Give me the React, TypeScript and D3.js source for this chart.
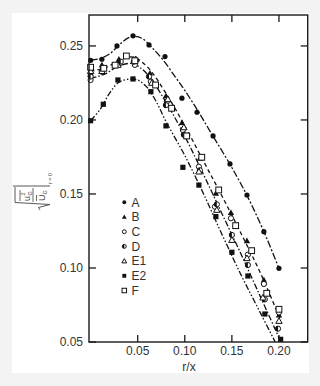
import React from 'react';
import * as d3 from 'd3';

const W = 320;
const H = 386;

const xTicks = [0.05, 0.1, 0.15, 0.2];
const yTicks = [0.05, 0.1, 0.15, 0.2, 0.25];
const xLabel = 'r/x';
const legendNames = ['A', 'B', 'C', 'D', 'E1', 'E2', 'F'];
const legendMarkers = ['dot', 'triFill', 'circOpen', 'half', 'triOpen', 'sqFill', 'sqOpen'];

// Measured points
const aX = [0, 0.012, 0.028, 0.045, 0.062, 0.079, 0.097, 0.113, 0.13, 0.148, 0.166, 0.184, 0.2];
const aY = [0.2403, 0.241, 0.25, 0.2568, 0.2507, 0.2428, 0.2147, 0.2052, 0.1892, 0.1703, 0.1493, 0.1245, 0.0998];
const bX = [0, 0.012, 0.03, 0.046, 0.063, 0.08, 0.097, 0.116, 0.133, 0.149, 0.166, 0.184, 0.2];
const bY = [0.2316, 0.2372, 0.241, 0.241, 0.2316, 0.2162, 0.1982, 0.1741, 0.1505, 0.1374, 0.1184, 0.0919, 0.0682];
const cX = [0, 0.012, 0.031, 0.047, 0.064, 0.081, 0.098, 0.115, 0.132, 0.149, 0.167, 0.184, 0.2];
const cY = [0.227, 0.2326, 0.2383, 0.2372, 0.2259, 0.2124, 0.1932, 0.1684, 0.1414, 0.1336, 0.109, 0.0892, 0.07];
const dX = [0, 0.013, 0.032, 0.046, 0.062, 0.08, 0.099, 0.116, 0.134, 0.15, 0.167, 0.185, 0.199];
const dY = [0.2293, 0.2349, 0.2394, 0.2394, 0.2293, 0.21, 0.19, 0.166, 0.143, 0.1223, 0.102, 0.0788, 0.059];
const e1X = [0, 0.012, 0.029, 0.048, 0.065, 0.082, 0.099, 0.115, 0.134, 0.15, 0.166, 0.183, 0.2];
const e1Y = [0.233, 0.233, 0.2372, 0.241, 0.225, 0.214, 0.195, 0.1651, 0.1392, 0.1189, 0.1066, 0.08, 0.0642];
const e2X = [0, 0.0135, 0.029, 0.045, 0.064, 0.08, 0.098, 0.115, 0.133, 0.15, 0.167, 0.185, 0.2018];
const e2Y = [0.1995, 0.2106, 0.227, 0.2277, 0.2191, 0.196, 0.168, 0.156, 0.1347, 0.1106, 0.0946, 0.0689, 0.0518];
const fX = [0, 0.014, 0.026, 0.038, 0.047, 0.069, 0.086, 0.102, 0.118, 0.136, 0.154, 0.171, 0.187, 0.2];
const fY = [0.2356, 0.2349, 0.237, 0.2432, 0.24, 0.2236, 0.2079, 0.1892, 0.1748, 0.1527, 0.1286, 0.1117, 0.0829, 0.0721];

// Fitted curves
const fitAX = [0, 0.01, 0.02, 0.03, 0.04, 0.047, 0.055, 0.065, 0.077, 0.09, 0.1, 0.115, 0.13, 0.148, 0.166, 0.184, 0.2];
const fitAY = [0.2405, 0.2415, 0.2445, 0.2505, 0.2555, 0.2565, 0.255, 0.249, 0.2405, 0.229, 0.22, 0.205, 0.189, 0.17, 0.149, 0.1245, 0.0998];
const fitUpX = [0, 0.015, 0.03, 0.045, 0.06, 0.08, 0.1, 0.12, 0.14, 0.16, 0.18, 0.201];
const fitUpY = [0.233, 0.235, 0.24, 0.2425, 0.236, 0.218, 0.196, 0.172, 0.148, 0.123, 0.097, 0.066];
const fitLoX = [0, 0.015, 0.03, 0.045, 0.06, 0.08, 0.1, 0.12, 0.14, 0.16, 0.18, 0.195, 0.202];
const fitLoY = [0.228, 0.231, 0.2365, 0.238, 0.231, 0.212, 0.189, 0.163, 0.136, 0.109, 0.081, 0.06, 0.05];
const fitE2X = [0, 0.01, 0.02, 0.03, 0.04, 0.05, 0.06, 0.07, 0.08, 0.1, 0.12, 0.14, 0.16, 0.18, 0.196];
const fitE2Y = [0.1995, 0.207, 0.218, 0.2255, 0.2275, 0.227, 0.222, 0.212, 0.199, 0.176, 0.15, 0.122, 0.095, 0.07, 0.05];

const seriesList = [
  { xs: aX, ys: aY, m: 'dot' },
  { xs: bX, ys: bY, m: 'triFill' },
  { xs: cX, ys: cY, m: 'circOpen' },
  { xs: dX, ys: dY, m: 'half' },
  { xs: e1X, ys: e1Y, m: 'triOpen' },
  { xs: e2X, ys: e2Y, m: 'sqFill' },
  { xs: fX, ys: fY, m: 'sqOpen' },
];

const fits = [
  { xs: fitAX, ys: fitAY, dash: '7,2,2,2' },
  { xs: fitUpX, ys: fitUpY, dash: '4,3' },
  { xs: fitLoX, ys: fitLoY, dash: '6,2,1.5,2' },
  { xs: fitE2X, ys: fitE2Y, dash: '6,2,1.5,2,1.5,2' },
];

const INK = '#111';

function Marker({ type, cx, cy, s = 1 }: { type: string; cx: number; cy: number; s?: number }) {
  const r = 2.6 * s;
  switch (type) {
    case 'dot':
      return <circle cx={cx} cy={cy} r={r} fill={INK} />;
    case 'circOpen':
      return <circle cx={cx} cy={cy} r={r} fill="#fff" stroke={INK} strokeWidth={1} />;
    case 'half':
      return (
        <g>
          <circle cx={cx} cy={cy} r={r} fill="#fff" stroke={INK} strokeWidth={1} />
          <path d={`M${cx},${cy - r} A${r},${r} 0 0,0 ${cx},${cy + r} Z`} fill={INK} />
        </g>
      );
    case 'triFill':
    case 'triOpen': {
      const h = 3.2 * s;
      const d = `M${cx},${cy - h} L${cx + h},${cy + h * 0.75} L${cx - h},${cy + h * 0.75} Z`;
      return type === 'triFill' ? (
        <path d={d} fill={INK} />
      ) : (
        <path d={d} fill="#fff" stroke={INK} strokeWidth={1} />
      );
    }
    case 'sqFill':
      return <rect x={cx - r} y={cy - r} width={2 * r} height={2 * r} fill={INK} />;
    case 'sqOpen':
      return <rect x={cx - r - 0.3} y={cy - r - 0.3} width={2 * r + 0.6} height={2 * r + 0.6} fill="#fff" stroke={INK} strokeWidth={1} />;
    default:
      return null;
  }
}

export default function App() {
  const left = 89, right = 307.7, top = 15, bottom = 342;
  const x = d3.scaleLinear().domain([-0.0017, 0.2305]).range([left, right]);
  const y = d3.scaleLinear().domain([0.05, 0.2709]).range([bottom, top]);
  const line = d3
    .line<[number, number]>()
    .x((d) => x(d[0]))
    .y((d) => y(d[1]))
    .curve(d3.curveCatmullRom.alpha(0.5));
  const font = "'Liberation Sans', Arial, sans-serif";
  const tickLen = 7;
  const labelColor = '#333';

  return (
    <svg width={W} height={H} style={{ position: 'absolute', left: 0, top: 0 }} fontFamily={font}>
      <rect x={0} y={0} width={W} height={H} fill="#f3f3f3" />
      <rect x={12} y={13} width={297} height={360} fill="#fff" />

      {/* fitted curves */}
      {fits.map((f, i) => (
        <path
          key={'f' + i}
          d={line(f.xs.map((v, j) => [v, f.ys[j]] as [number, number])) || ''}
          fill="none"
          stroke={INK}
          strokeWidth={1.3}
          strokeDasharray={f.dash}
        />
      ))}

      {/* points */}
      {seriesList.map((s, i) => (
        <g key={'s' + i}>
          {s.xs.map((v, j) => (
            <Marker key={j} type={s.m} cx={x(v)} cy={y(s.ys[j])} />
          ))}
        </g>
      ))}

      {/* frame */}
      <rect x={left} y={top} width={right - left} height={bottom - top} fill="none" stroke="#1a1a1a" strokeWidth={1.4} />

      {/* y ticks */}
      {yTicks.map((t) => (
        <g key={'y' + t}>
          <line x1={left} x2={left + tickLen} y1={y(t)} y2={y(t)} stroke="#1a1a1a" strokeWidth={1.3} />
          <line x1={right} x2={right - tickLen} y1={y(t)} y2={y(t)} stroke="#1a1a1a" strokeWidth={1.3} />
          <text x={left - 6} y={y(t)} dy="0.35em" textAnchor="end" fontSize={12} fill={labelColor}>
            {t.toFixed(2)}
          </text>
        </g>
      ))}

      {/* x ticks */}
      {xTicks.map((t) => (
        <g key={'x' + t}>
          <line x1={x(t)} x2={x(t)} y1={bottom} y2={bottom - tickLen} stroke="#1a1a1a" strokeWidth={1.3} />
          <line x1={x(t)} x2={x(t)} y1={top} y2={top + tickLen} stroke="#1a1a1a" strokeWidth={1.3} />
          <text x={x(t)} y={354.5} textAnchor="middle" fontSize={12} fill={labelColor}>
            {t.toFixed(2)}
          </text>
        </g>
      ))}
      <text x={189} y={371} textAnchor="middle" fontSize={12} fill={labelColor}>
        {xLabel}
      </text>

      {/* legend */}
      {legendNames.map((n, i) => {
        const ly = 202.3 + i * 14.7;
        return (
          <g key={'l' + n}>
            <Marker type={legendMarkers[i]} cx={124.3} cy={ly} s={0.75} />
            <text x={131.5} y={ly} dy="0.36em" fontSize={12} fill={labelColor}>
              {n}
            </text>
          </g>
        );
      })}

      {/* y axis label (rotated formula) */}
      <g transform="translate(13,210) rotate(-90)" fill="#444" stroke="none">
        <path d="M0,27 L2.5,25.5 L5.5,37 L7.5,2 L23,2" fill="none" stroke="#444" strokeWidth={0.9} />
        <line x1={9} x2={20} y1={7} y2={7} stroke="#444" strokeWidth={0.8} />
        <text x={9} y={17} fontSize={9}>u</text>
        <text x={14.5} y={11.5} fontSize={5.5}>2</text>
        <text x={14.5} y={18.5} fontSize={5.5}>G</text>
        <line x1={8} x2={22} y1={20} y2={20} stroke="#444" strokeWidth={0.8} />
        <line x1={9} x2={15} y1={23.5} y2={23.5} stroke="#444" strokeWidth={0.8} />
        <text x={9} y={31.5} fontSize={9}>U</text>
        <text x={15.5} y={33.5} fontSize={5.5}>G</text>
        <line x1={24} x2={24} y1={0} y2={37} stroke="#444" strokeWidth={0.9} />
        <text x={26} y={39} fontSize={5.5}>r = 0</text>
      </g>
    </svg>
  );
}
